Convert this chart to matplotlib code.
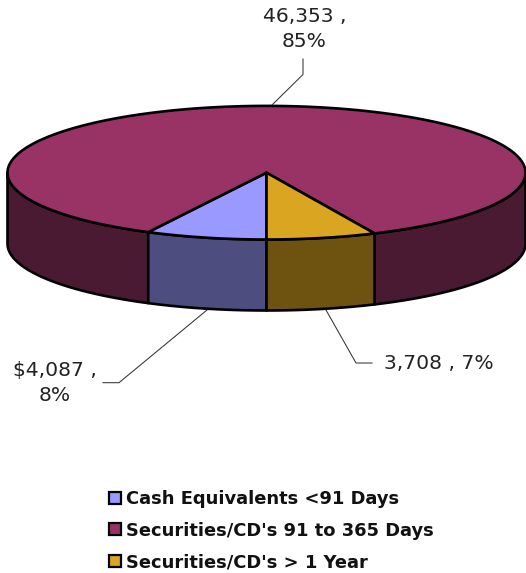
import numpy as np
import matplotlib
matplotlib.use("Agg")
import matplotlib.pyplot as plt
from matplotlib.patches import Patch, Polygon

categories = ["Cash Equivalents <91 Days", "Securities/CD's 91 to 365 Days", "Securities/CD's > 1 Year"]
values = [4087, 46353, 3708]
labels = ["$4,087 ,\n8%", "46,353 ,\n85%", "3,708 , 7%"]

top_colors = ["#9999FF", "#993366", "#DAA520"]
side_colors = ["#4D4D80", "#4A1A33", "#6D5210"]

CX, CY, RX, RY, DEPTH = 266.5, 172.7, 259, 66.8, 71
EDGE_W = 1.9

fig = plt.figure(figsize=(5.26, 5.73), dpi=100)
ax = fig.add_axes([0, 0, 1, 1])
ax.set_xlim(0, 526)
ax.set_ylim(573, 0)
ax.axis("off")


def pt(deg, dz=0.0):
    a = np.radians(deg)
    return CX + RX * np.cos(a), CY + RY * np.sin(a) + dz


# angles measured clockwise on screen from the front (y axis is inverted)
total = sum(values)
sweep = [v / total * 360 for v in values]
a_cash = 90 + sweep[0]          # left end of the cash slice
a_year = 90 - sweep[2]          # right end of the >1 year slice
spans = [(90, a_cash), (a_cash, 360 + a_year), (a_year, 90)]


def wall(a0, a1, color):
    t = np.linspace(a0, a1, 80)
    x, y = pt(t)
    xs = np.r_[x, x[::-1]]
    ys = np.r_[y, y[::-1] + DEPTH]
    ax.add_patch(Polygon(np.c_[xs, ys], closed=True, fc=color, ec="black", lw=EDGE_W, joinstyle="round"))


# visible side walls
wall(a_cash, 180, side_colors[1])
wall(0, a_year, side_colors[1])
wall(90, a_cash, side_colors[0])
wall(a_year, 90, side_colors[2])

# top faces
for (a0, a1), c in zip(spans, top_colors):
    t = np.linspace(a0, a1, 300)
    x, y = pt(t)
    ax.add_patch(Polygon(np.c_[np.r_[CX, x], np.r_[CY, y]], closed=True, fc=c, ec="black", lw=EDGE_W, joinstyle="round"))

# leader lines
lc = "#333333"
ax.plot([303, 303, 272], [59, 74.5, 105], color=lc, lw=0.75)
ax.plot([207, 119, 103], [310, 382.7, 382.7], color=lc, lw=0.75)
ax.plot([326, 356, 372], [310, 363, 363], color=lc, lw=0.75)

# data labels
fs = 14.6
tc = "#222222"
ax.text(304.5, 29, labels[1], ha="center", va="center", fontsize=fs, color=tc, linespacing=1.38)
ax.text(55, 383, labels[0], ha="center", va="center", fontsize=fs, color=tc, linespacing=1.38)
ax.text(384, 363.5, labels[2], ha="left", va="center", fontsize=fs, color=tc)

# legend
handles = [Patch(fc=c, ec="black", lw=1.6) for c in top_colors]
leg = ax.legend(handles, categories, loc="upper left", bbox_to_anchor=(109.2 / 526, 1 - 490 / 573),
                bbox_transform=fig.transFigure, frameon=False, borderpad=0, borderaxespad=0,
                handlelength=0.68, handleheight=0.68, handletextpad=0.26, labelspacing=0.76,
                prop={"weight": "bold", "size": 12.9})
for t in leg.get_texts():
    t.set_color("#111111")

fig.savefig("out.png", dpi=100)
